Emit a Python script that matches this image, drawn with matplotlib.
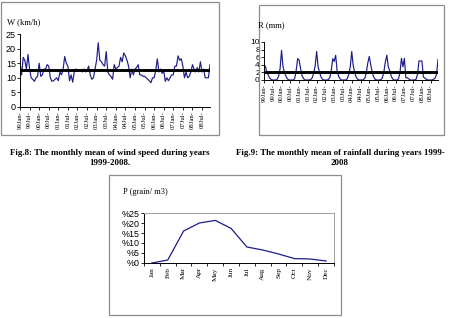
import matplotlib.pyplot as plt
from matplotlib.patches import Rectangle

W, H = 452, 318

# monthly wind speed (km/h), Jan 1999 .. Dec 2008
wind = [15.2, 11, 17, 16, 13, 18, 13, 10, 9.5, 8.8, 10, 10.5,
        15, 10.5, 11, 13, 13, 14.5, 14, 10, 8.8, 9, 9.5, 10,
        9, 12, 11, 13, 17.3, 15, 14, 9, 11, 8.5, 12, 13,
        12.8, 12.5, 12.5, 12, 13, 12, 12.5, 14, 11, 9.5, 10, 13,
        16, 22, 16, 15.5, 14.5, 14, 19, 12, 11, 10.5, 9.5, 14.5,
        13, 13.5, 14, 17, 15.5, 18.5, 17.5, 16, 14, 10, 13, 11,
        13, 13.5, 14.5, 11, 11, 10.5, 10.5, 10, 9.5, 9, 8.3, 10,
        10, 12.5, 16.5, 12, 13, 11.5, 12.5, 8.8, 10, 9, 10, 11,
        11, 14, 14, 17.5, 16, 16.5, 14, 10, 12, 10, 10.5, 12,
        14.5, 13, 12, 13.5, 12, 15.5, 12, 13, 10, 10, 10, 14.5]
wind_mean = 12.7

# monthly rainfall (mm), Jan 1999 .. Dec 2008
rain = [4.1, 3.5, 2.0, 1.2, 0.5, 0.1, 0, 0, 0, 0.2, 1.0, 3.0,
        7.8, 3.5, 2.0, 1.0, 0.3, 0, 0, 0, 0, 0.4, 2.5, 5.6,
        5.3, 3.0, 1.2, 0.4, 0, 0, 0, 0, 0.1, 0.6, 1.8, 3.8,
        7.5, 3.5, 2.0, 0.8, 0.2, 0, 0, 0, 0.1, 0.6, 2.5, 5.6,
        4.9, 6.5, 2.5, 1.0, 0.3, 0, 0, 0, 0, 0.4, 1.5, 3.5,
        7.5, 3.8, 2.0, 0.8, 0.2, 0, 0, 0, 0.1, 0.5, 2.0, 4.5,
        6.2, 4.0, 2.0, 0.8, 0.2, 0, 0, 0, 0.1, 0.6, 2.2, 4.8,
        6.5, 3.5, 2.5, 1.0, 0.3, 0, 0, 0, 0.3, 2.0, 5.7, 3.5,
        5.7, 0.6, 0.6, 0.3, 0, 0, 0, 0, 0.2, 1.5, 5.0, 5.0,
        5.0, 0.8, 0.5, 0.2, 0, 0, 0, 0, 0.2, 0.5, 1.5, 5.4]
rain_mean = 2.0

year_labels = []
for y in range(1999, 2009):
    year_labels += ['%02dJan-' % (y % 100), '%02dJul-' % (y % 100)]

months = ['Jan', 'Feb', 'Mar', 'Apr', 'May', 'Jun',
          'Jul', 'Aug', 'Sep', 'Oct', 'Nov', 'Dec']
pollen = [0, 1.5, 16, 20, 21.3, 17.3, 8, 6.5, 4.5, 2.2, 2, 1]
pollen_ticks = [0, 5, 10, 15, 20, 25]

serif = 'Liberation Serif'
sans = 'Liberation Sans'
navy = '#1c1c8a'

fig = plt.figure(figsize=(W / 100, H / 100), dpi=100)


def ax_px(x0, y0, x1, y1):
    return fig.add_axes([x0 / W, 1 - y1 / H, (x1 - x0) / W, (y1 - y0) / H])


def box_px(x0, y0, x1, y1):
    fig.patches.append(Rectangle((x0 / W, 1 - y1 / H), (x1 - x0) / W, (y1 - y0) / H,
                                 transform=fig.transFigure, fill=False,
                                 edgecolor='#8c8c8c', lw=0.9))


def txt_px(x, y, s, **kw):
    fig.text(x / W, 1 - y / H, s, **kw)


def series_chart(ax, vals, mean, ymax, ystep, ysize):
    n = len(vals)
    ax.plot(range(n), vals, color=navy, lw=0.85)
    ax.plot([0, n - 1], [mean, mean], color='black', lw=2.1)
    ax.set_xlim(0, n - 1)
    ax.set_ylim(0, ymax)
    ax.set_yticks(range(0, ymax + 1, ystep))
    ax.set_xticks(range(0, n, 6))
    ax.set_xticklabels(year_labels, rotation=90, fontfamily=serif, fontsize=4.8)
    for lab in ax.get_yticklabels():
        lab.set_fontfamily(sans)
        lab.set_fontsize(ysize)
    ax.tick_params(length=2, width=0.6, pad=1)
    ax.spines['top'].set_visible(False)
    ax.spines['right'].set_visible(False)
    for s in ('left', 'bottom'):
        ax.spines[s].set_linewidth(0.7)


# wind speed
box_px(1, 2, 219, 135)
ax1 = ax_px(20, 34, 210, 107)
series_chart(ax1, wind, wind_mean, 25, 5, 6.5)
txt_px(7, 22, 'W (km/h)', fontfamily=serif, fontsize=6.2, va='center')

# rainfall
box_px(259, 5, 444, 135)
ax2 = ax_px(264, 42, 438, 80)
series_chart(ax2, rain, rain_mean, 10, 2, 6.0)
txt_px(258, 25, 'R (mm)', fontfamily=serif, fontsize=6.2, va='center')

# captions
cap = dict(fontfamily=serif, fontsize=6.4, fontweight='bold', ha='center', va='center')
txt_px(110, 153, 'Fig.8: The monthly mean of wind speed during years', **cap)
txt_px(110, 163, '1999-2008.', **cap)
txt_px(340, 153, 'Fig.9: The monthly mean of rainfall during years 1999-', **cap)
txt_px(340, 163, '2008', **cap)

# pollen
box_px(109, 175, 341, 315)
ax3 = ax_px(144, 213, 334, 263)
ax3.plot(range(12), pollen, color=navy, lw=0.9)
ax3.set_xlim(-0.5, 11.5)
ax3.set_ylim(0, 25)
ax3.set_yticks(pollen_ticks)
ax3.set_yticklabels(['%' + str(v) for v in pollen_ticks], fontfamily=sans, fontsize=6.4)
ax3.set_xticks([i - 0.5 for i in range(13)])
ax3.set_xticklabels([])
ax3.set_xticks(range(12), minor=True)
ax3.set_xticklabels(months, minor=True, rotation=90, fontfamily=serif, fontsize=5.2)
ax3.tick_params(axis='both', which='major', length=2, width=0.6, pad=1)
ax3.tick_params(axis='x', which='minor', length=0, pad=3)
ax3.spines['top'].set_color('#a0a0a0')
ax3.spines['right'].set_color('#a0a0a0')
for s in ax3.spines.values():
    s.set_linewidth(0.7)
txt_px(123, 192, 'P (grain/ m3)', fontfamily=serif, fontsize=6.0, va='center')

fig.savefig('out.png', dpi=100)
